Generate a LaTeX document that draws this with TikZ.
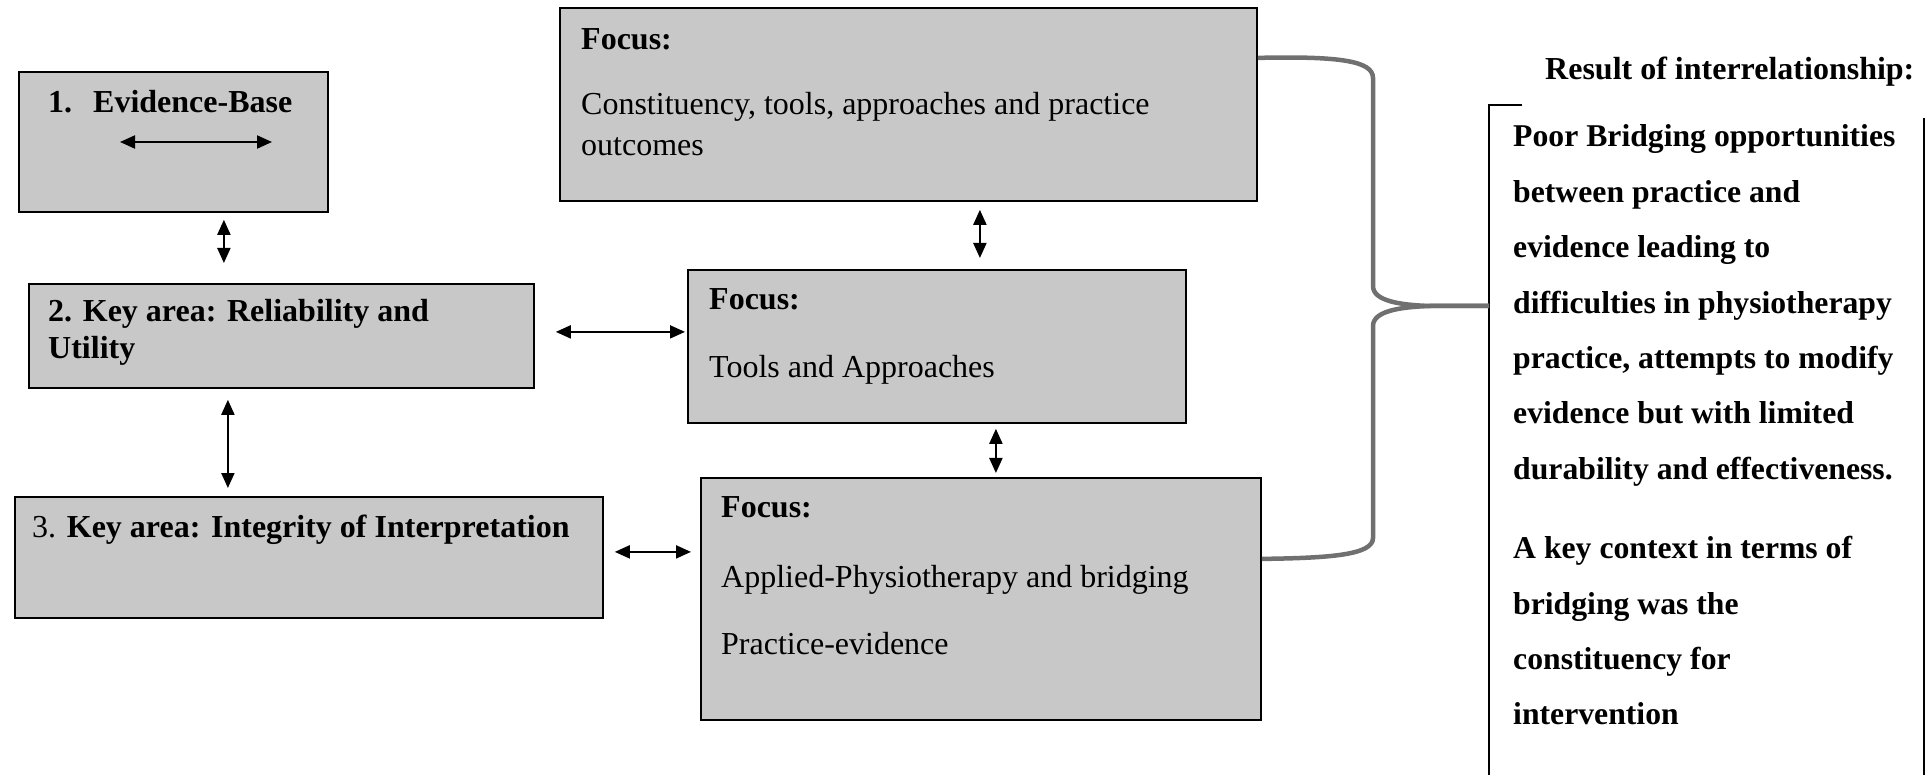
\documentclass[tikz,border=0pt]{standalone}
\usepackage{fontspec}
\setmainfont{Liberation Serif}
\usetikzlibrary{arrows.meta,calc}
\definecolor{boxgray}{RGB}{200,200,200}
\definecolor{bracegray}{RGB}{112,112,112}
\begin{document}
\begin{tikzpicture}[x=1pt,y=-1pt,
  box/.style={draw=black, line width=1.8pt, fill=boxgray, anchor=north west, inner sep=0pt},
  txt/.style={anchor=base west, inner sep=0pt, font=\fontsize{32}{37}\selectfont},
  dbl/.style={{Triangle[length=15pt,width=13pt]}-{Triangle[length=15pt,width=13pt]}, line width=2pt},
  brace/.style={draw=bracegray, line width=4.5pt},
  frame/.style={line width=1.5pt}]

\useasboundingbox (0,0) rectangle (1931,775);

% key areas (left column)
\node[box, minimum width=309pt, minimum height=140pt] (b1) at (18,71) {};
\node[box, minimum width=505pt, minimum height=104pt] (b2) at (28,283) {};
\node[box, minimum width=588pt, minimum height=121pt] (b3) at (14,496) {};

% focus boxes (middle column)
\node[box, minimum width=697pt, minimum height=193pt] (f1) at (559,7) {};
\node[box, minimum width=498pt, minimum height=153pt] (f2) at (687,269) {};
\node[box, minimum width=560pt, minimum height=242pt] (f3) at (700,477) {};

% texts of the key areas
\node[txt] (b1t) at (48,113) {\textbf{1.\hspace{21pt}Evidence-Base}};
\node[txt] (b2t) at (48,322) {\begin{tabular}[t]{@{}l@{}}\textbf{2. Key area: Reliability and}\\ \textbf{Utility}\end{tabular}};
\node[txt] (b3t) at (32,537) {3. \textbf{Key area: Integrity of Interpretation}};

% texts of the focus boxes
\node[txt] (f1a) at (581,50) {\textbf{Focus:}};
\node[txt] (f1b) at (581,115) {Constituency, tools, approaches and practice};
\node[txt] (f1c) at (581,156) {outcomes};
\node[txt] (f2a) at (709,310) {\textbf{Focus:}};
\node[txt] (f2b) at (709,378) {Tools and Approaches};
\node[txt] (f3a) at (721,517) {\textbf{Focus:}};
\node[txt] (f3b) at (721,587) {Applied-Physiotherapy and bridging};
\node[txt] (f3c) at (721,654) {Practice-evidence};

% double-headed connectors
\draw[dbl] ($(b1.north west)+(102,71)$) -- ($(b1.north west)+(254,71)$);
\draw[dbl, shorten <=7pt, shorten >=20pt] ($(b1.south)+(50.5,0)$) -- ($(b1.south |- b2.north)+(50.5,0)$);
\draw[dbl, shorten <=11pt, shorten >=8pt] ($(b2.south)+(-53.5,0)$) -- ($(b2.south |- b3.north)+(-53.5,0)$);
\draw[dbl, shorten <=21pt, shorten >=2pt] ($(b2.east)+(0,-4)$) -- ($(b2.east -| f2.west)+(0,-4)$);
\draw[dbl, shorten <=11pt, shorten >=9pt] ($(b3.east)+(0,-5.5)$) -- ($(b3.east -| f3.west)+(0,-5.5)$);
\draw[dbl, shorten <=8pt, shorten >=11pt] ($(f1.south)+(71.5,0)$) -- ($(f1.south |- f2.north)+(71.5,0)$);
\draw[dbl, shorten <=5pt, shorten >=4pt] ($(f2.south)+(59,0)$) -- ($(f2.south |- f3.north)+(59,0)$);

% result panel
\coordinate (tip) at (1489,306);
\draw[frame] (1522,105) -- (1489,105) -- (1489,775);
\draw[frame] (1924,118) -- (1924,775);
\node[txt, font=\fontsize{32}{37}\selectfont\bfseries] (title) at (1545,80) {Result of interrelationship:};
\node[txt, font=\fontsize{31.7}{55.4}\selectfont\bfseries] (res) at (1513,147)
  {\begin{tabular}[t]{@{}l@{}}
   Poor Bridging opportunities\\
   between practice and\\
   evidence leading to\\
   difficulties in physiotherapy\\
   practice, attempts to modify\\
   evidence but with limited\\
   durability and effectiveness.\\[24pt]
   A key context in terms of\\
   bridging was the\\
   constituency for\\
   intervention
   \end{tabular}};

% brace joining the focus boxes to the result
\draw[brace] ($(f1.east)+(0,-46.5)$) .. controls (1340,56) and (1373,61) .. (1373,78)
  -- (1373,286) .. controls (1373,301) and (1400,305) .. (1430,306) -- (tip);
\draw[brace] (tip) -- (1430,306) .. controls (1400,307) and (1373,311) .. (1373,326)
  -- (1373,538) .. controls (1373,555) and (1330,558) .. ($(f3.east)+(0,-40)$);
\end{tikzpicture}
\end{document}
